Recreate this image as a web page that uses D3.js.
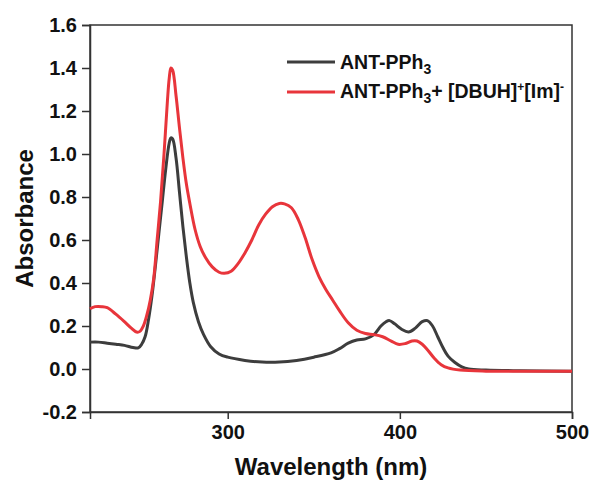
<!doctype html>
<html>
<head>
<meta charset="UTF-8">
<title>UV-Vis</title>
<script src="https://d3js.org/d3.v7.min.js"></script>
<style>
  body { margin: 0; background: #fff; }
  text { font-family: "Liberation Sans", Arial, sans-serif; font-weight: bold; fill: #111; }
</style>
</head>
<body>
<script>
// spectra: [wavelength nm, absorbance]
var antPPh3 = [
  [220,0.125],[225,0.125],[230,0.12],[235,0.115],[240,0.11],[245,0.10],[248,0.098],
  [250,0.115],[252,0.15],[254,0.23],[256,0.34],[258,0.48],[260,0.63],[262,0.78],
  [264,0.93],[266,1.05],[267,1.075],[268,1.07],[270,0.98],[272,0.82],[274,0.66],
  [276,0.52],[278,0.40],[280,0.31],[283,0.22],[286,0.16],[290,0.105],[295,0.07],
  [300,0.055],[310,0.04],[320,0.032],[330,0.032],[340,0.04],[350,0.055],[360,0.075],
  [365,0.095],[370,0.12],[375,0.135],[380,0.14],[385,0.16],[389,0.2],[392,0.22],
  [394,0.225],[397,0.21],[401,0.185],[405,0.172],[409,0.19],[413,0.22],[416,0.225],
  [419,0.2],[422,0.15],[425,0.1],[428,0.06],[432,0.03],[436,0.01],[440,0.0],
  [450,-0.005],[470,-0.008],[500,-0.01]
];
var antPPh3Im = [
  [220,0.28],[223,0.29],[227,0.29],[230,0.285],[235,0.255],[240,0.22],[244,0.19],
  [247,0.172],[249,0.175],[251,0.2],[253,0.25],[255,0.32],[257,0.42],[259,0.6],
  [261,0.78],[263,1.0],[265,1.25],[266,1.35],[267,1.40],[268,1.39],[270,1.27],
  [272,1.12],[274,0.98],[276,0.86],[278,0.77],[281,0.65],[284,0.57],[287,0.52],
  [291,0.475],[295,0.45],[298,0.445],[302,0.455],[306,0.49],[310,0.54],[314,0.6],
  [318,0.67],[322,0.72],[326,0.755],[330,0.77],[333,0.768],[337,0.75],[341,0.695],
  [345,0.61],[349,0.51],[353,0.43],[357,0.37],[361,0.32],[365,0.27],[370,0.215],
  [375,0.18],[380,0.165],[385,0.16],[390,0.15],[395,0.13],[399,0.115],[403,0.118],
  [407,0.13],[410,0.13],[413,0.115],[416,0.09],[420,0.05],[424,0.02],[428,0.005],
  [435,-0.005],[450,-0.01],[500,-0.01]
];
var xTicks = [300, 400, 500];
var yTicks = [-0.2, 0.0, 0.2, 0.4, 0.6, 0.8, 1.0, 1.2, 1.4, 1.6];

var W = 593, H = 488;
var mLeft = 90, mRight = 572, mTop = 25, mBottom = 412;

var svg = d3.select("body").append("svg").attr("width", W).attr("height", H);

var x = d3.scaleLinear().domain([220, 500]).range([mLeft, mRight]);
var y = d3.scaleLinear().domain([-0.2, 1.6]).range([mBottom, mTop]);

// frame
svg.append("rect")
    .attr("x", mLeft).attr("y", mTop)
    .attr("width", mRight - mLeft).attr("height", mBottom - mTop)
    .attr("fill", "none").attr("stroke", "#333").attr("stroke-width", 1.5);

var xAxis = svg.append("g")
    .attr("transform", "translate(0," + mBottom + ")")
    .call(d3.axisBottom(x).tickValues(xTicks).tickSizeOuter(0).tickSize(7).tickPadding(6));
var yAxis = svg.append("g")
    .attr("transform", "translate(" + mLeft + ",0)")
    .call(d3.axisLeft(y).tickValues(yTicks).tickFormat(d3.format(".1f")).tickSizeOuter(0).tickSize(8).tickPadding(5));

[xAxis, yAxis].forEach(function(g) {
    g.select(".domain").attr("stroke", "#333").attr("stroke-width", 1.5);
    g.selectAll(".tick line").attr("stroke", "#333").attr("stroke-width", 1.5);
    g.selectAll(".tick text").attr("font-size", 20).attr("fill", "#111")
        .attr("font-family", "Liberation Sans, Arial, sans-serif").attr("font-weight", "bold");
});
yAxis.selectAll(".tick text").text(function(d) { return d3.format(".1f")(d).replace("\u2212", "-"); });

var line = d3.line()
    .x(function(d) { return x(d[0]); })
    .y(function(d) { return y(d[1]); })
    .curve(d3.curveCatmullRom);

svg.append("path").datum(antPPh3)
    .attr("fill", "none").attr("stroke", "#3d3d3d").attr("stroke-width", 3).attr("d", line);
svg.append("path").datum(antPPh3Im)
    .attr("fill", "none").attr("stroke", "#e8353b").attr("stroke-width", 3).attr("d", line);

// axis titles
svg.append("text")
    .attr("x", (mLeft + mRight) / 2).attr("y", 475)
    .attr("text-anchor", "middle").attr("font-size", 24)
    .text("Wavelength (nm)");
svg.append("text")
    .attr("transform", "translate(33," + ((mTop + mBottom) / 2) + ") rotate(-90)")
    .attr("text-anchor", "middle").attr("font-size", 24)
    .text("Absorbance");

// legend
var legend = svg.append("g");
legend.append("line").attr("x1", 287).attr("x2", 335).attr("y1", 62).attr("y2", 62)
    .attr("stroke", "#3d3d3d").attr("stroke-width", 3);
legend.append("line").attr("x1", 287).attr("x2", 335).attr("y1", 92).attr("y2", 92)
    .attr("stroke", "#e8353b").attr("stroke-width", 3);

var t1 = legend.append("text").attr("x", 340).attr("y", 69).attr("font-size", 19.5);
t1.append("tspan").text("ANT-PPh");
t1.append("tspan").attr("font-size", 14).attr("dy", 5).text("3");

var t2 = legend.append("text").attr("x", 340).attr("y", 98).attr("font-size", 19.5);
t2.append("tspan").text("ANT-PPh");
t2.append("tspan").attr("font-size", 14).attr("dy", 5).text("3");
t2.append("tspan").attr("dy", -5).text("+ [DBUH]");
t2.append("tspan").attr("font-size", 12).attr("dy", -7).text("+");
t2.append("tspan").attr("dy", 7).text("[Im]");
t2.append("tspan").attr("font-size", 12).attr("dy", -7).text("-");
</script>
</body>
</html>
